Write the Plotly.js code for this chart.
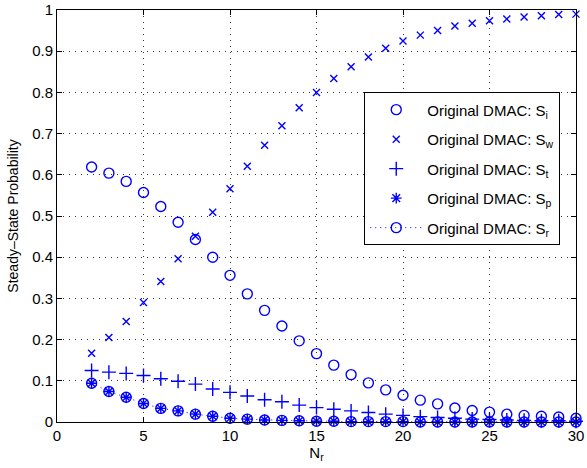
<!DOCTYPE html>
<html>
<head>
<meta charset="utf-8">
<script src="https://cdn.plot.ly/plotly-3.0.1.min.js"></script>
<style>
  html, body { margin: 0; padding: 0; background: #fff; }
  #chart { width: 587px; height: 468px; }
</style>
</head>
<body>
<div id="chart"></div>
<script>
// Number of relay nodes N_r
const nr = [2,3,4,5,6,7,8,9,10,11,12,13,14,15,16,17,18,19,20,21,22,23,24,25,26,27,28,29,30];

// Steady-state probabilities of the original DMAC states
const sI = [0.619,0.604,0.584,0.557,0.523,0.485,0.443,0.400,0.356,0.311,0.271,0.233,0.197,0.166,0.138,0.115,0.095,0.078,0.065,0.053,0.044,0.034,0.028,0.024,0.019,0.016,0.014,0.012,0.009];
const sW = [0.167,0.205,0.244,0.290,0.341,0.396,0.451,0.509,0.566,0.621,0.672,0.719,0.763,0.800,0.834,0.862,0.886,0.907,0.925,0.939,0.950,0.961,0.968,0.974,0.978,0.983,0.986,0.989,0.990];
const sT = [0.125,0.121,0.118,0.113,0.105,0.099,0.092,0.080,0.072,0.063,0.054,0.049,0.041,0.035,0.031,0.027,0.023,0.019,0.016,0.013,0.011,0.009,0.007,0.006,0.005,0.004,0.003,0.003,0.002];
const sP = [0.094,0.074,0.060,0.045,0.033,0.027,0.019,0.014,0.009,0.007,0.005,0.004,0.003,0.002,0.002,0.001,0.001,0.001,0.001,0.000,0.000,0.000,0.000,0.000,0.000,0.000,0.000,0.000,0.000];
const sR = [0.094,0.074,0.060,0.045,0.033,0.027,0.019,0.014,0.009,0.007,0.005,0.004,0.003,0.002,0.002,0.001,0.001,0.001,0.001,0.000,0.000,0.000,0.000,0.000,0.000,0.000,0.000,0.000,0.000];

const names = ['Original DMAC: S<sub>i</sub>','Original DMAC: S<sub>w</sub>','Original DMAC: S<sub>t</sub>','Original DMAC: S<sub>p</sub>','Original DMAC: S<sub>r</sub>'];

const yTicks = [0,0.1,0.2,0.3,0.4,0.5,0.6,0.7,0.8,0.9,1];
const yTickText = ['0','0.1','0.2','0.3','0.4','0.5','0.6','0.7','0.8','0.9','1'];
const xTicks = [0,5,10,15,20,25,30];
const xTickText = ['0','5','10','15','20','25','30'];

const blue = '#0000ff';
const fontFamily = 'Liberation Sans, Arial, Helvetica, sans-serif';

function markerTrace(y, name, symbol, size, group) {
  return {
    x: nr, y: y, name: name, type: 'scatter', mode: 'markers',
    legendgroup: group,
    marker: { symbol: symbol, size: size, color: blue, line: { color: blue, width: 1.4 } },
    cliponaxis: false
  };
}

const traces = [
  markerTrace(sI, names[0], 'circle-open', 10, 'g1'),
  markerTrace(sW, names[1], 'x-thin-open', 7, 'g2'),
  markerTrace(sT, names[2], 'cross-thin-open', 10, 'g3'),
  markerTrace(sP, names[3], 'asterisk-open', 9, 'g4'),
  {
    x: nr, y: sR, name: names[4], type: 'scatter', mode: 'lines+markers',
    legendgroup: 'g5',
    line: { color: blue, width: 1, dash: '1px,4px' },
    marker: { symbol: 'circle-open', size: 10, color: blue, line: { color: blue, width: 1.4 } },
    cliponaxis: false
  }
];

function axis(extra) {
  return Object.assign({
    showline: true, linecolor: '#000', linewidth: 1, mirror: 'allticks',
    ticks: 'inside', ticklen: 5, tickcolor: '#000', tickwidth: 1,
    showgrid: true, gridcolor: '#333', gridwidth: 1, griddash: '1px,5px',
    zeroline: false, automargin: false,
    tickfont: { family: fontFamily, size: 15, color: '#000' }
  }, extra);
}

const layout = {
  width: 587, height: 468,
  margin: { l: 57, r: 11, t: 10, b: 46 },
  paper_bgcolor: '#fff', plot_bgcolor: '#fff',
  font: { family: fontFamily, size: 15, color: '#000' },
  xaxis: axis({
    range: [0, 30], tickmode: 'array', tickvals: xTicks, ticktext: xTickText,
    title: { text: 'N<sub>r</sub>', font: { size: 15 }, standoff: 2 }
  }),
  yaxis: axis({
    range: [0, 1], tickmode: 'array', tickvals: yTicks, ticktext: yTickText,
    title: { text: 'Steady–State Probability', font: { size: 14 }, standoff: 10 }
  }),
  showlegend: true,
  legend: {
    x: 0.592, y: 0.80, xanchor: 'left', yanchor: 'top',
    bgcolor: '#fff', bordercolor: '#000', borderwidth: 1,
    font: { size: 15, color: '#000' },
    traceorder: 'grouped', tracegroupgap: 7,
    itemwidth: 52
  }
};

Plotly.newPlot('chart', traces, layout, { displayModeBar: false, staticPlot: true });
</script>
</body>
</html>
